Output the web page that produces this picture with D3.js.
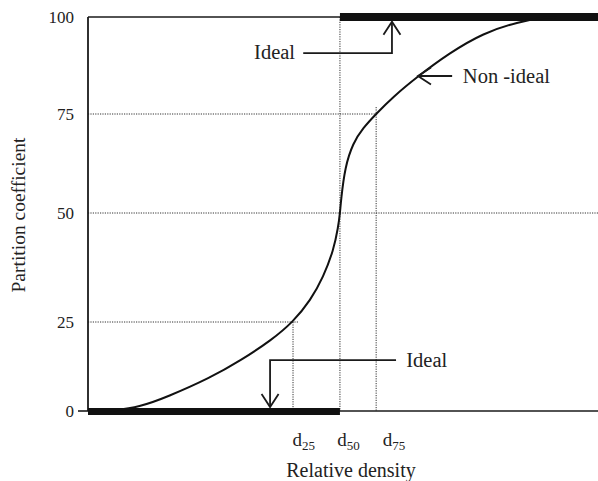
<!DOCTYPE html>
<html><head><meta charset="utf-8">
<script src="https://cdn.jsdelivr.net/npm/d3@7"></script>
<style>body{margin:0;background:#fff}svg{display:block}</style>
</head><body>
<svg id="c" width="598" height="481" font-family="'Liberation Serif','Times New Roman',Times,serif"></svg>
<script>
// ---- data ----
const yTicks = [0, 25, 50, 75, 100];
const dSubs = ["25", "50", "75"];
const dValues = [40.2, 49.4, 56.5];          // relative density at 25/50/75 %
const dLabelPos = [42.3, 51.1, 60.0];         // label centres (relative density units)
const curveX = [4.31, 10.20, 15.49, 23.92, 30.10, 35.98, 40.20, 43.67, 46.14, 48.16, 49.06, 49.41, 49.61, 50.39, 51.96, 53.92, 56.47, 59.80, 64.51, 70.86, 77.53, 84.22, 90.10, 92.55];
const curveY = [0, 1.12, 3.93, 9.27, 14.33, 19.94, 25, 30.05, 35.32, 41.51, 46.79, 50, 53.28, 61.62, 67.68, 71.46, 75, 79.38, 84.54, 90.72, 95.88, 98.71, 100, 100];

const svg = d3.select("#c");
const x = d3.scaleLinear().domain([0, 100]).range([88, 598]);
const y = d3.scaleLinear().domain([0, 25, 50, 75, 100]).range([411, 322, 213, 114, 17]);
const d50 = dValues[1];
const ink = "#1a1a1a";

// dotted guide lines
function dl(x1, y1, x2, y2) {
  svg.append("line").attr("x1", x1).attr("y1", y1).attr("x2", x2).attr("y2", y2)
    .attr("stroke", "#333").attr("stroke-width", 1).attr("stroke-dasharray", "1.2,1.2");
}
dl(x(0), y(25), x(dValues[0]) + 5, y(25));
dl(x(0), y(50), x(100), y(50));
dl(x(0), y(75), x(dValues[2]) + 1, y(75));
dl(x(dValues[0]), y(25), x(dValues[0]), y(0));
dl(x(dValues[1]), y(100), x(dValues[1]), y(0));
dl(x(dValues[2]), y(75) - 7, x(dValues[2]), y(0));

// frame: left axis, top and bottom lines, tick at 0
svg.append("line").attr("x1", x(0)).attr("x2", x(0)).attr("y1", y(100)).attr("y2", y(0)).attr("stroke", ink).attr("stroke-width", 1.8);
svg.append("line").attr("x1", x(0)).attr("x2", x(100)).attr("y1", y(100)).attr("y2", y(100)).attr("stroke", ink).attr("stroke-width", 1.6);
svg.append("line").attr("x1", x(0)).attr("x2", x(100)).attr("y1", y(0)).attr("y2", y(0)).attr("stroke", ink).attr("stroke-width", 1.6);
svg.append("line").attr("x1", x(0) - 10).attr("x2", x(0)).attr("y1", y(0)).attr("y2", y(0)).attr("stroke", ink).attr("stroke-width", 1.6);

// ideal (step) thick lines
svg.append("line").attr("x1", x(0)).attr("x2", x(d50)).attr("y1", y(0) + 0.5).attr("y2", y(0) + 0.5).attr("stroke", "#111").attr("stroke-width", 7);
svg.append("line").attr("x1", x(d50)).attr("x2", x(100)).attr("y1", y(100)).attr("y2", y(100)).attr("stroke", "#111").attr("stroke-width", 8);

// non-ideal curve
const pts = curveX.map((v, i) => [v, curveY[i]]);
svg.append("path").datum(pts)
  .attr("d", d3.line().x(d => x(d[0])).y(d => y(d[1])).curve(d3.curveBasis))
  .attr("fill", "none").attr("stroke", "#111").attr("stroke-width", 2);

// y tick labels
svg.selectAll(".yt").data(yTicks).join("text")
  .attr("x", 74).attr("y", d => y(d)).attr("dy", "0.35em").attr("fill", "#222")
  .attr("text-anchor", "end").attr("font-size", 17).text(d => d);

// x labels d25 d50 d75
dSubs.forEach((s, i) => {
  const t = svg.append("text").attr("x", x(dLabelPos[i])).attr("y", 446).attr("fill", "#222")
    .attr("text-anchor", "middle").attr("font-size", 19);
  t.append("tspan").text("d");
  t.append("tspan").attr("font-size", 13).attr("dy", 4).text(s);
});

// axis titles
svg.append("text").attr("x", 351).attr("y", 477).attr("text-anchor", "middle").attr("font-size", 20).attr("fill", "#222").text("Relative density");
svg.append("text").attr("transform", "translate(25,215) rotate(-90)").attr("text-anchor", "middle").attr("font-size", 19.5).attr("fill", "#222").text("Partition coefficient");

// annotations
function path(d) { svg.append("path").attr("d", d).attr("stroke", ink).attr("stroke-width", 1.8).attr("fill", "none"); }
function arrowHead(tx, ty, dir) {
  const a = 8.5, b = 13;
  if (dir === "up") path(`M${tx - a},${ty + b}L${tx},${ty}L${tx + a},${ty + b}`);
  if (dir === "down") path(`M${tx - a},${ty - b}L${tx},${ty}L${tx + a},${ty - b}`);
  if (dir === "left") path(`M${tx + b},${ty - a}L${tx},${ty}L${tx + b},${ty + a}`);
}
function label(px, py, anchor, txt) {
  svg.append("text").attr("x", px).attr("y", py).attr("dy", "0.33em").attr("text-anchor", anchor)
    .attr("font-size", 20.5).attr("fill", "#222").text(txt);
}
// top Ideal
{
  const yy = y(90.7), xs = x(42.2), xe = x(59.6), tip = y(98.8);
  path(`M${xs},${yy}H${xe}V${tip}`);
  arrowHead(xe, tip, "up");
  label(x(40.6), yy - 1, "end", "Ideal");
}
// Non-ideal
{
  const yy = y(84.8), xs = x(71.4), xe = x(64.7);
  path(`M${xs},${yy}H${xe}`);
  arrowHead(xe, yy, "left");
  label(x(73.5), yy, "start", "Non -ideal");
}
// bottom Ideal
{
  const yy = y(14.3), xs = x(60.4), xe = x(35.7), tip = y(1.1);
  path(`M${xs},${yy}H${xe}V${tip}`);
  arrowHead(xe, tip, "down");
  label(x(62.4), yy, "start", "Ideal");
}
</script>
</body></html>
